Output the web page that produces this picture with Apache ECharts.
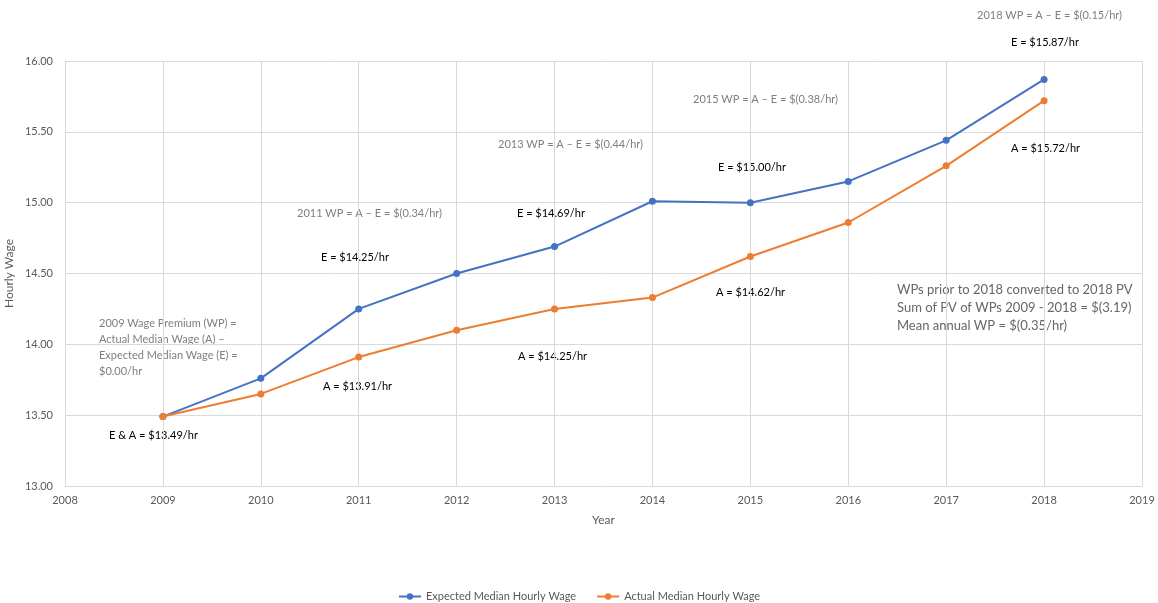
<!DOCTYPE html>
<html>
<head>
<meta charset="utf-8">
<script src="https://cdn.jsdelivr.net/npm/echarts@6/dist/echarts.min.js"></script>
<style>
  html, body { margin: 0; padding: 0; background: #fff; }
  #chart { width: 1158px; height: 603px; }
</style>
</head>
<body>
<div id="chart"></div>
<script>
const years = [2009, 2010, 2011, 2012, 2013, 2014, 2015, 2016, 2017, 2018];
const expectedWage = [13.49, 13.76, 14.25, 14.50, 14.69, 15.01, 15.00, 15.15, 15.44, 15.87];
const actualWage = [13.49, 13.65, 13.91, 14.10, 14.25, 14.33, 14.62, 14.86, 15.26, 15.72];

const FONT = 'Lato';
const GRAY = '#7f7f7f';

// text callouts, placed in pixels like the original
const notes = [
  { x: 977, y: 16, text: '2018 WP = A \u2013 E = $(0.15/hr)', gray: true },
  { x: 1011, y: 43, text: 'E = $15.87/hr' },
  { x: 693, y: 100, text: '2015 WP = A \u2013 E = $(0.38/hr)', gray: true },
  { x: 498, y: 145, text: '2013 WP = A \u2013 E = $(0.44/hr)', gray: true },
  { x: 718, y: 168, text: 'E = $15.00/hr' },
  { x: 1011, y: 149, text: 'A = $15.72/hr' },
  { x: 517, y: 214, text: 'E = $14.69/hr' },
  { x: 297, y: 214, text: '2011 WP = A \u2013 E = $(0.34/hr)', gray: true },
  { x: 321, y: 258, text: 'E = $14.25/hr' },
  { x: 716, y: 293, text: 'A = $14.62/hr' },
  { x: 323, y: 387, text: 'A = $13.91/hr' },
  { x: 518, y: 357, text: 'A = $14.25/hr' },
  { x: 109, y: 436, text: 'E & A = $13.49/hr' }
];

const graphics = notes.map(n => ({
  type: 'text',
  left: n.x,
  top: n.y - 6,
  style: {
    text: n.text,
    fill: n.gray ? GRAY : '#000',
    font: '11px ' + FONT
  }
}));

graphics.push({
  type: 'text',
  left: 99,
  top: 315,
  style: {
    text: '2009 Wage Premium (WP) =\nActual Median Wage (A) \u2013\nExpected Median Wage (E) =\n$0.00/hr',
    fill: GRAY,
    font: '11px ' + FONT,
    lineHeight: 16
  }
});

graphics.push({
  type: 'text',
  left: 897,
  top: 281,
  style: {
    text: 'WPs prior to 2018 converted to 2018 PV\nSum of PV of WPs 2009 - 2018 = $(3.19)\nMean annual WP = $(0.35/hr)',
    fill: '#666',
    font: '13px ' + FONT,
    lineHeight: 18
  }
});

const chart = echarts.init(document.getElementById('chart'));

chart.setOption({
  animation: false,
  textStyle: { fontFamily: FONT },
  grid: { left: 65, right: 16, top: 61, bottom: 117, containLabel: false, outerBoundsMode: 'none' },
  legend: {
    top: 586,
    left: 'center',
    itemGap: 20,
    itemWidth: 22,
    itemHeight: 8,
    textStyle: { color: '#595959', fontSize: 11 },
    data: ['Expected Median Hourly Wage', 'Actual Median Hourly Wage']
  },
  xAxis: {
    type: 'value',
    min: 2008,
    max: 2019,
    interval: 1,
    name: 'Year',
    nameLocation: 'middle',
    nameGap: 28,
    nameTextStyle: { color: '#595959', fontSize: 12 },
    axisLine: { show: true, lineStyle: { color: '#d9d9d9' } },
    axisTick: { show: false },
    axisLabel: { color: '#595959', fontSize: 11, margin: 9, formatter: v => String(v) },
    splitLine: { show: true, lineStyle: { color: '#d9d9d9' } }
  },
  yAxis: {
    type: 'value',
    min: 13,
    max: 16,
    interval: 0.5,
    name: 'Hourly Wage',
    nameLocation: 'middle',
    nameGap: 50,
    nameMoveOverlap: false,
    nameTextStyle: { color: '#595959', fontSize: 12 },
    axisLine: { show: true, lineStyle: { color: '#d9d9d9' } },
    axisTick: { show: false },
    axisLabel: { color: '#595959', fontSize: 11, margin: 12, formatter: v => v.toFixed(2) },
    splitLine: { show: true, lineStyle: { color: '#d9d9d9' } }
  },
  series: [
    {
      name: 'Expected Median Hourly Wage',
      type: 'line',
      data: years.map((y, i) => [y, expectedWage[i]]),
      symbol: 'circle',
      symbolSize: 7,
      itemStyle: { color: '#4472c4' },
      lineStyle: { width: 2, color: '#4472c4' }
    },
    {
      name: 'Actual Median Hourly Wage',
      type: 'line',
      data: years.map((y, i) => [y, actualWage[i]]),
      symbol: 'circle',
      symbolSize: 7,
      itemStyle: { color: '#ed7d31' },
      lineStyle: { width: 2, color: '#ed7d31' }
    }
  ],
  graphic: graphics
});
</script>
</body>
</html>
